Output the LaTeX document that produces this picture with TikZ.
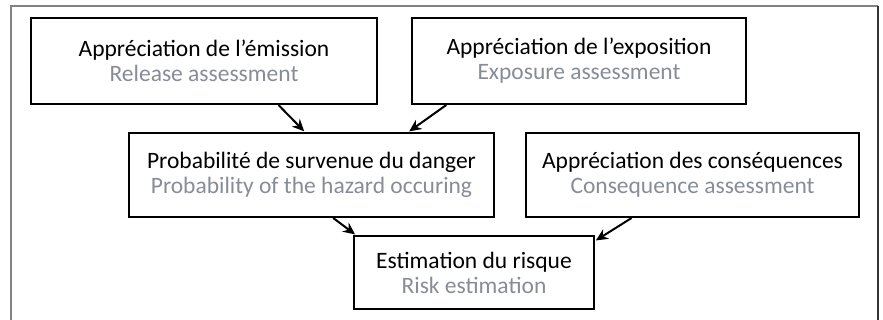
\documentclass[tikz,border=0pt]{standalone}
\usepackage{fontspec}
\setmainfont{Carlito}
\usetikzlibrary{calc,arrows.meta}
\definecolor{subgray}{RGB}{135,140,152}
\definecolor{framegray}{RGB}{130,130,130}
\tikzset{
  box/.style={draw=black, line width=2pt, inner sep=0pt, align=center,
    font=\fontsize{23.5}{25}\selectfont},
  arr/.style={line width=2pt, -{Stealth[length=12pt,width=11pt]}, shorten >=1pt},
}
\newcommand{\sub}[1]{\textcolor{subgray}{#1}}
\begin{document}
\begin{tikzpicture}[x=1pt,y=-1pt]
\useasboundingbox (0,0) rectangle (883,320);
\draw[framegray, line width=1.2pt] (11,321) -- (11,6) -- (878,6);
\draw[black!80, line width=1.2pt] (878,6) -- (878,321);
\node[box, minimum width=346pt, minimum height=86pt] (b1) at (204,61)
  {Appréciation de l’émission\\\sub{Release assessment}};
\node[box, minimum width=334pt, minimum height=86pt] (b2) at (579,61)
  {Appréciation de l’exposition\\\sub{Exposure assessment}};
\node[box, minimum width=365pt, minimum height=84pt] (b3) at (311.5,175)
  {Probabilité de survenue du danger\\\sub{Probability of the hazard occuring}};
\node[box, minimum width=333pt, minimum height=84pt] (b4) at (692.5,175)
  {Appréciation des conséquences\\\sub{Consequence assessment}};
\node[box, minimum width=240pt, minimum height=73pt] (b5) at (474,272.5)
  {Estimation du risque\\\sub{Risk estimation}};
\draw[arr] ($(b1.south west)!0.714!(b1.south east)$) -- ($(b3.north west)!0.482!(b3.north east)$);
\draw[arr] ($(b2.south west)!0.105!(b2.south east)$) -- ($(b3.north west)!0.764!(b3.north east)$);
\draw[arr] ($(b3.south west)!0.559!(b3.south east)$) -- ($(b5.north west)!0.012!(b5.north east)$);
\draw[arr] ($(b4.south west)!0.318!(b4.south east)$) -- ($(b5.north east)!0.08!(b5.south east)$);
\end{tikzpicture}
\end{document}
